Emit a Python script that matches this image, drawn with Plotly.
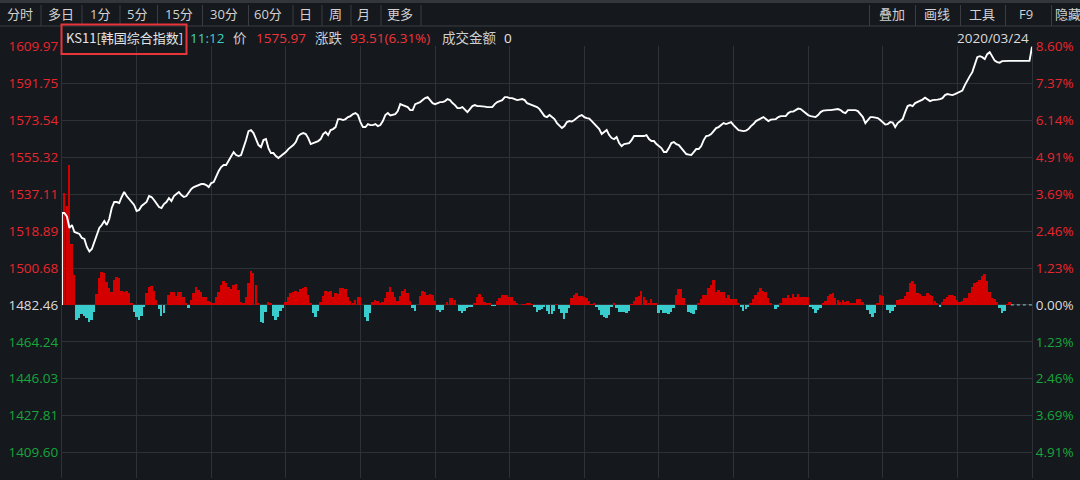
import plotly.graph_objects as go

# ---------------- data ----------------
PREV_CLOSE = 1482.46
DATE = "2020/03/24"
left_ticks = [1609.97, 1591.75, 1573.54, 1555.32, 1537.11, 1518.89, 1500.68,
              1482.46, 1464.24, 1446.03, 1427.81, 1409.60]
right_ticks = ["8.60%", "7.37%", "6.14%", "4.91%", "3.69%", "2.46%", "1.23%",
               "0.00%", "1.23%", "2.46%", "3.69%", "4.91%"]

# index price, one value per minute from 09:00 (0) to 15:30 (390)
price = [
    1527.84, 1527.84, 1526.00, 1520.45, 1521.92, 1518.47, 1517.98, 1517.48, 1515.51, 1515.02,
    1511.07, 1508.82, 1510.09, 1513.54, 1517.98, 1520.45, 1521.92, 1523.90, 1521.92, 1524.88,
    1530.31, 1533.27, 1533.27, 1532.78, 1535.74, 1538.20, 1536.23, 1534.75, 1533.76, 1531.79,
    1528.83, 1529.32, 1531.30, 1532.28, 1533.27, 1536.23, 1535.74, 1534.26, 1532.78, 1530.80,
    1530.31, 1532.28, 1533.27, 1535.24, 1533.76, 1536.23, 1537.22, 1538.20, 1536.72, 1535.74,
    1536.23, 1538.20, 1539.68, 1540.67, 1541.16, 1541.66, 1542.15, 1542.15, 1541.66, 1540.67,
    1542.64, 1543.14, 1546.10, 1548.56, 1550.54, 1551.52, 1551.52, 1553.50, 1555.96, 1557.93,
    1556.46, 1555.96, 1556.46, 1559.91, 1563.85, 1568.29, 1568.79, 1567.31, 1563.85, 1561.39,
    1560.40, 1563.85, 1564.35, 1559.91, 1557.44, 1557.44, 1555.96, 1554.97, 1555.96, 1556.95,
    1557.93, 1559.41, 1560.40, 1561.39, 1562.87, 1565.83, 1566.81, 1567.31, 1566.81, 1564.84,
    1561.88, 1562.37, 1562.87, 1563.36, 1564.35, 1566.81, 1567.80, 1566.32, 1568.79, 1569.28,
    1570.27, 1574.21, 1574.21, 1573.72, 1574.21, 1575.20, 1575.69, 1576.68, 1577.18, 1576.19,
    1572.73, 1570.27, 1570.27, 1571.75, 1571.25, 1571.25, 1571.75, 1570.76, 1571.25, 1573.23,
    1576.19, 1577.18, 1575.97, 1576.19, 1576.68, 1578.16, 1581.61, 1581.12, 1580.63, 1580.13,
    1578.65, 1578.65, 1581.61, 1582.11, 1582.60, 1583.59, 1584.57, 1585.07, 1583.59, 1582.11,
    1581.61, 1582.11, 1582.60, 1582.60, 1583.09, 1584.08, 1583.59, 1582.11, 1581.12, 1579.64,
    1579.64, 1580.13, 1578.65, 1577.67, 1579.15, 1580.63, 1581.12, 1580.63, 1580.63, 1580.63,
    1580.38, 1580.13, 1580.13, 1580.13, 1581.61, 1582.60, 1583.09, 1583.59, 1585.07, 1585.07,
    1584.57, 1584.57, 1584.08, 1583.59, 1583.83, 1584.08, 1583.59, 1582.11, 1581.61, 1581.12,
    1580.63, 1580.13, 1579.15, 1577.67, 1575.69, 1575.20, 1576.19, 1575.20, 1574.21, 1572.24,
    1570.76, 1569.77, 1570.76, 1572.73, 1573.23, 1572.98, 1573.72, 1574.71, 1575.69, 1576.19,
    1575.20, 1574.71, 1574.46, 1573.23, 1571.75, 1570.27, 1569.28, 1566.81, 1567.80, 1568.79,
    1566.32, 1564.84, 1564.35, 1565.33, 1562.37, 1560.89, 1561.88, 1562.13, 1562.37, 1563.85,
    1565.83, 1565.83, 1565.83, 1565.58, 1565.83, 1566.32, 1564.35, 1563.36, 1563.36, 1561.88,
    1560.89, 1559.91, 1557.93, 1557.93, 1559.91, 1562.37, 1562.87, 1561.88, 1561.39, 1559.91,
    1557.93, 1556.95, 1556.70, 1556.46, 1557.93, 1559.41, 1559.41, 1560.89, 1563.85, 1565.83,
    1566.07, 1566.81, 1568.29, 1569.77, 1570.27, 1571.25, 1572.24, 1571.75, 1572.24, 1572.73,
    1571.25, 1569.77, 1568.79, 1568.54, 1568.29, 1568.54, 1569.28, 1570.76, 1571.75, 1573.23,
    1573.97, 1574.46, 1575.20, 1574.21, 1573.23, 1573.97, 1574.21, 1574.21, 1575.20, 1575.69,
    1575.69, 1575.69, 1577.18, 1577.91, 1577.91, 1578.65, 1579.39, 1579.15, 1578.16, 1577.18,
    1576.19, 1575.69, 1575.45, 1575.20, 1576.19, 1577.67, 1578.41, 1578.65, 1578.65, 1578.65,
    1578.90, 1578.90, 1579.15, 1578.65, 1577.67, 1577.18, 1578.65, 1578.65, 1578.65, 1578.65,
    1578.16, 1576.68, 1575.20, 1572.24, 1573.72, 1575.20, 1575.20, 1574.95, 1574.71, 1573.72,
    1572.73, 1571.50, 1571.75, 1572.73, 1572.48, 1570.27, 1572.24, 1573.23, 1574.21, 1577.67,
    1580.63, 1581.12, 1580.63, 1582.11, 1582.60, 1583.09, 1583.83, 1584.82, 1584.08, 1583.09,
    1583.59, 1583.59, 1583.83, 1584.08, 1584.57, 1586.05, 1586.55, 1586.30, 1586.05, 1586.55,
    1587.04, 1587.53, 1588.27, 1590.99, 1593.45, 1595.43, 1597.40, 1600.85, 1604.80, 1605.29,
    1604.80, 1603.81, 1606.28, 1607.27, 1604.80, 1603.07, 1602.33, 1602.09, 1602.83, 1602.97,
    1602.97, 1602.97, 1602.97, 1602.97, 1602.97, 1602.97, 1602.97, 1602.97, 1602.97, 1602.97,
    1609.97,
]

# buy/sell strength bars, one per minute from 09:01 to 15:21 (relative units)
strength = [
    112, 99, 140, 61, 30, -15, -13, -9, -11, -13, -17, -15, -7, 11, 27, 33, 32, 23, 17, 13,
    25, 28, 27, 14, 13, 14, 12, 2, -7, -12, -15, -11, -2, 12, 18, 19, 14, 5, -4, -11,
    -8, 0, 10, 13, 13, 9, 13, 13, 8, 2, -3, 5, 12, 18, 15, 13, 8, 8, 4, 3,
    2, 8, 13, 20, 24, 22, 18, 16, 20, 21, 15, 3, 2, 8, 22, 34, 32, 20, 2, -17,
    -18, -7, 3, 2, -11, -15, -12, -6, -3, 3, 8, 12, 13, 14, 13, 16, 17, 18, 10, 2,
    -8, -12, -6, 3, 9, 14, 13, 14, 8, 12, 11, 17, 17, 16, 8, 4, 2, 5, 8, 8,
    0, -12, -16, -8, 3, 5, 4, 2, 3, 7, 13, 18, 13, 8, 4, 9, 14, 16, 12, 4,
    -3, -6, 0, 9, 14, 13, 10, 11, 10, 4, -5, -7, -5, 0, 3, 7, 7, 5, 0, -6,
    -8, -6, -3, -2, -2, 2, 8, 11, 8, 3, 2, 2, -1, -1, 4, 7, 10, 10, 10, 8,
    8, 4, 2, 0, 1, 1, 2, 2, 1, -2, -7, -5, -4, -2, -6, -9, -9, -6, 1, -4,
    -8, -14, -8, -3, 7, 10, 12, 9, 9, 8, 7, 4, 1, 2, -2, -5, -10, -12, -13, -10,
    -2, 2, -3, -7, -7, -7, -8, -6, 1, 4, 8, 9, 14, 8, 5, 2, 6, 2, 2, -8,
    -5, -8, -8, -9, -7, -3, 10, 16, 16, 7, 0, -7, -8, -9, -5, 2, 6, 10, 10, 17,
    20, 25, 13, 15, 13, 13, 7, 10, 6, 6, 6, 2, -2, -6, -4, -2, 2, 6, 10, 13,
    17, 14, 13, 7, 2, 0, -4, -2, 2, 7, 7, 10, 7, 11, 8, 11, 8, 8, 8, 8,
    -2, -4, -8, -5, -3, 2, 4, 9, 11, 12, 7, 5, 3, 5, 3, 4, 2, 2, 2, 6,
    6, 3, 0, -5, -9, -12, -8, 2, 10, 9, 0, -5, -8, -6, -2, 5, 6, 6, 9, 13,
    22, 24, 21, 12, 11, 9, 9, 12, 10, 9, 4, 2, -2, 3, 6, 8, 10, 10, 9, 5,
    3, 4, 7, 7, 12, 18, 22, 23, 25, 29, 31, 24, 13, 7, 6, 3, -3, -8, -6, 1,
    3,
]

toolbar_left = ["分时", "多日", "1分", "5分", "15分", "30分", "60分", "日", "周", "月", "更多"]
toolbar_right = ["叠加", "画线", "工具", "F9", "隐藏"]
info_parts = [("KS11[韩国综合指数]", "#e6e6e6"), ("11:12", "#3fd1c2"), ("价", "#cfcfcf"),
              ("1575.97", "#f0353a"), ("涨跌", "#cfcfcf"), ("93.51(6.31%)", "#f0353a"),
              ("成交金额", "#cfcfcf"), ("0", "#e6e6e6")]

# ---------------- styling ----------------
W, H = 1080, 480
ML, MR, MT, MB = 62, 48, 46, 2
PW, PH = W - ML - MR, H - MT - MB
BG = "#15181d"
GRID = "#2e3137"
RED = "#e8262d"
GREEN = "#17a53c"
WHITE_T = "#dcdcdc"
FONT = "Open Sans, Noto Sans CJK SC"
CJK_FONT = "Noto Sans CJK SC"
Y_RANGE = [1397.0, 1610.3]
BAR_RANGE = [-173, 259]


def px_x(p):
    return (p - ML) / PW


def px_y(p):
    return (H - MB - p) / PH


minutes = list(range(len(price)))
bar_x = [i + 1 for i in range(len(strength))]
bar_colors = ["#d40000" if v >= 0 else "#38cccc" for v in strength]


def tick_col(v):
    if abs(v - PREV_CLOSE) < 0.005:
        return WHITE_T
    return RED if v > PREV_CLOSE else GREEN


left_text = [f"<span style='color:{tick_col(v)}'>{v:.2f}</span>" for v in left_ticks]
right_text = [f"<span style='color:{tick_col(v)}'>{t}</span>" for v, t in zip(left_ticks, right_ticks)]

fig = go.Figure()
# anchor trace for the base price axis (invisible)
fig.add_trace(go.Scatter(x=[0], y=[PREV_CLOSE], mode="markers", marker=dict(opacity=0),
                         yaxis="y", hoverinfo="skip", showlegend=False))
fig.add_trace(go.Bar(x=bar_x, y=strength, marker=dict(color=bar_colors, line=dict(width=0)),
                     width=0.78, yaxis="y2", hoverinfo="skip", showlegend=False))
fig.add_trace(go.Scatter(x=[0] + minutes, y=[PREV_CLOSE] + price, mode="lines",
                         line=dict(color="#ffffff", width=1.9), yaxis="y3",
                         hoverinfo="skip", showlegend=False))
fig.add_trace(go.Scatter(x=[len(strength) + 0.5, minutes[-1]], y=[PREV_CLOSE, PREV_CLOSE], mode="lines",
                         line=dict(color="#8fc9d0", width=1, dash="dot"), yaxis="y3",
                         hoverinfo="skip", showlegend=False))

annotations = []
shapes = []

# toolbar
left_centers = [20, 61, 100, 137, 179, 224, 268, 305, 335, 363, 400]
left_seps = [41, 82, 120, 157.5, 202.5, 248.5, 293, 322, 351, 381, 421]
for label, cx in zip(toolbar_left, left_centers):
    annotations.append(dict(text=label, x=px_x(cx), y=px_y(14.5), xref="paper", yref="paper",
                            xanchor="center", yanchor="middle", showarrow=False,
                            font=dict(family=FONT, size=13, color="#d2d2d2")))
right_centers = [892, 937, 982, 1026, 1068]
right_seps = [869.5, 915.5, 960.5, 1005.5, 1051.5]
for label, cx in zip(toolbar_right, right_centers):
    annotations.append(dict(text=label, x=px_x(cx), y=px_y(14.5), xref="paper", yref="paper",
                            xanchor="center", yanchor="middle", showarrow=False,
                            font=dict(family=FONT, size=13, color="#d2d2d2")))
for sx in left_seps + right_seps:
    shapes.append(dict(type="line", xref="paper", yref="paper", x0=px_x(sx), x1=px_x(sx),
                       y0=px_y(5), y1=px_y(26), line=dict(color="#3a3d43", width=1)))
shapes.append(dict(type="line", xref="paper", yref="paper", x0=px_x(0), x1=px_x(W),
                   y0=px_y(26), y1=px_y(26), line=dict(color="#3a3d43", width=1)))
shapes.append(dict(type="rect", xref="paper", yref="paper", x0=px_x(0), x1=px_x(W),
                   y0=px_y(0), y1=px_y(3), line=dict(width=0), fillcolor="#33363b"))

# info row
info_x = [64, 188, 231, 254, 313, 348, 440, 502]
for i, ((txt, col), ix) in enumerate(zip(info_parts, info_x)):
    fam, sz = (CJK_FONT, 13) if i == 0 else (FONT, 13.5)
    annotations.append(dict(text=txt, x=px_x(ix), y=px_y(37.5), xref="paper", yref="paper",
                            xanchor="left", yanchor="middle", showarrow=False,
                            font=dict(family=fam, size=sz, color=col)))
annotations.append(dict(text=DATE, x=px_x(1031), y=px_y(37.5), xref="paper", yref="paper",
                        xanchor="right", yanchor="middle", showarrow=False,
                        font=dict(family=FONT, size=13.5, color="#dcdcdc")))
shapes.append(dict(type="rect", xref="paper", yref="paper", x0=px_x(61.5), x1=px_x(186.5),
                   y0=px_y(54), y1=px_y(24.5), line=dict(color="#e8353a", width=2)))

fig.update_layout(
    width=W, height=H,
    margin=dict(l=ML, r=MR, t=MT, b=MB, pad=0),
    paper_bgcolor=BG, plot_bgcolor=BG,
    showlegend=False, bargap=0,
    annotations=annotations, shapes=shapes,
    xaxis=dict(range=[0, 390], tickvals=list(range(0, 391, 30)), showticklabels=False,
               showgrid=True, gridcolor=GRID, gridwidth=1, zeroline=False, showline=False,
               ticks="", fixedrange=True),
    yaxis=dict(range=Y_RANGE, tickvals=left_ticks, ticktext=left_text, side="left",
               showgrid=True, gridcolor=GRID, gridwidth=1, zeroline=False,
               showline=True, linecolor=GRID, linewidth=1, ticks="",
               tickfont=dict(family=FONT, size=13.5, color=RED), fixedrange=True),
    yaxis2=dict(range=BAR_RANGE, overlaying="y", visible=False, fixedrange=True),
    yaxis3=dict(range=Y_RANGE, overlaying="y", side="right", tickvals=left_ticks,
                ticktext=right_text, showgrid=False, zeroline=False,
                showline=True, linecolor=GRID, linewidth=1, ticks="",
                tickfont=dict(family=FONT, size=13.5, color=RED), fixedrange=True),
)

fig.write_html("out.html", config={"displayModeBar": False},
               post_script="document.body.style.margin='0px';document.body.style.overflow='hidden';")
